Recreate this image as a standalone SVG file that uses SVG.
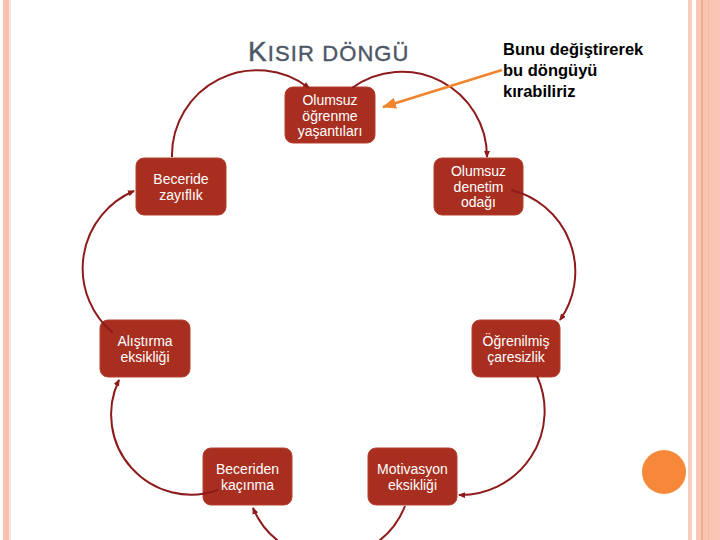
<svg xmlns="http://www.w3.org/2000/svg" width="720" height="540" viewBox="0 0 720 540">
<defs>
<style>
.box{fill:#A82F1F;stroke:#B5412F;stroke-width:1}
.lbl{font-family:"Liberation Sans",Arial,sans-serif;font-size:14px;fill:#FFFFFF;text-anchor:middle}
.arc{fill:none;stroke:#8E1B1B;stroke-width:2;marker-end:url(#ah)}
</style>
<marker id="ah" markerUnits="userSpaceOnUse" markerWidth="7" markerHeight="6" refX="6" refY="3" orient="auto">
<path d="M0,0 L7,3 L0,6 z" fill="#8E1B1B"/>
</marker>
<marker id="oh" markerUnits="userSpaceOnUse" markerWidth="14" markerHeight="11" refX="13" refY="5.5" orient="auto">
<path d="M0,0 L14,5.5 L0,11 z" fill="#F0852D"/>
</marker>
</defs>
<rect x="0" y="0" width="720" height="540" fill="#FFFFFF"/>
<g id="borders">
<rect x="3" y="0" width="6" height="540" fill="#F7C3B0"/>
<rect x="9" y="0" width="2" height="540" fill="#FCE4DA"/>
<rect x="688" y="0" width="4" height="540" fill="#F9CDBE"/>
<rect x="696" y="0" width="24" height="540" fill="#F8C6B3"/>
<rect x="701.5" y="0" width="1.2" height="540" fill="#E39A7C"/>
<rect x="708" y="0" width="1" height="540" fill="#F3B9A3"/>
</g>
<g id="title">
<text x="248" y="61" font-family="'Liberation Sans',Arial,sans-serif" fill="#4E5765" letter-spacing="1.1" stroke="#4E5765" stroke-width="0.4"><tspan font-size="28">K</tspan><tspan font-size="22">ISIR DÖNGÜ</tspan></text>
</g>
<g id="n1"><rect class="box" x="285" y="87" width="90" height="56" rx="8"/>
<text class="lbl" x="330" y="105">Olumsuz</text><text class="lbl" x="330" y="120.5">öğrenme</text><text class="lbl" x="330" y="136">yaşantıları</text></g>
<g id="n2"><rect class="box" x="434" y="158" width="89" height="57" rx="8"/>
<text class="lbl" x="478.5" y="176">Olumsuz</text><text class="lbl" x="478.5" y="191.5">denetim</text><text class="lbl" x="478.5" y="207">odağı</text></g>
<g id="n3"><rect class="box" x="472" y="320" width="88" height="57" rx="8"/>
<text class="lbl" x="516" y="346">Öğrenilmiş</text><text class="lbl" x="516" y="361.5">çaresizlik</text></g>
<g id="n4"><rect class="box" x="368" y="448" width="89" height="57" rx="8"/>
<text class="lbl" x="412.5" y="474">Motivasyon</text><text class="lbl" x="412.5" y="489.5">eksikliği</text></g>
<g id="n5"><rect class="box" x="203" y="448" width="89" height="57" rx="8"/>
<text class="lbl" x="247.5" y="474">Beceriden</text><text class="lbl" x="247.5" y="489.5">kaçınma</text></g>
<g id="n6"><rect class="box" x="100" y="320" width="90" height="57" rx="8"/>
<text class="lbl" x="145" y="346">Alıştırma</text><text class="lbl" x="145" y="361.5">eksikliği</text></g>
<g id="n7"><rect class="box" x="136" y="158" width="90" height="57" rx="8"/>
<text class="lbl" x="181" y="184">Beceride</text><text class="lbl" x="181" y="199.5">zayıflık</text></g>
<g id="connectors">
<path class="arc" d="M172,157 A85,85 0 0 1 309,88"/>
<path class="arc" d="M352,88 A85,85 0 0 1 487,157"/>
<path class="arc" d="M511,190 A84,84 0 0 1 560,320"/>
<path class="arc" d="M537,376 A84,84 0 0 1 459,495"/>
<path class="arc" d="M405,506 A82,82 0 0 1 253,508"/>
<path class="arc" d="M218,490 A80,80 0 0 1 119,380"/>
<path class="arc" d="M113,333 A84,84 0 0 1 134,191"/>
<line x1="502" y1="70" x2="383" y2="107" stroke="#F0852D" stroke-width="2.5" marker-end="url(#oh)"/>
</g>
<g id="note">
<text font-family="'Liberation Sans',Arial,sans-serif" font-size="16.5" font-weight="bold" fill="#000000">
<tspan x="503" y="55">Bunu değiştirerek</tspan><tspan x="503" y="76">bu döngüyü</tspan><tspan x="503" y="97">kırabiliriz</tspan></text>
</g>
<circle id="dot" cx="664" cy="472" r="22" fill="#F7883A"/>
</svg>
